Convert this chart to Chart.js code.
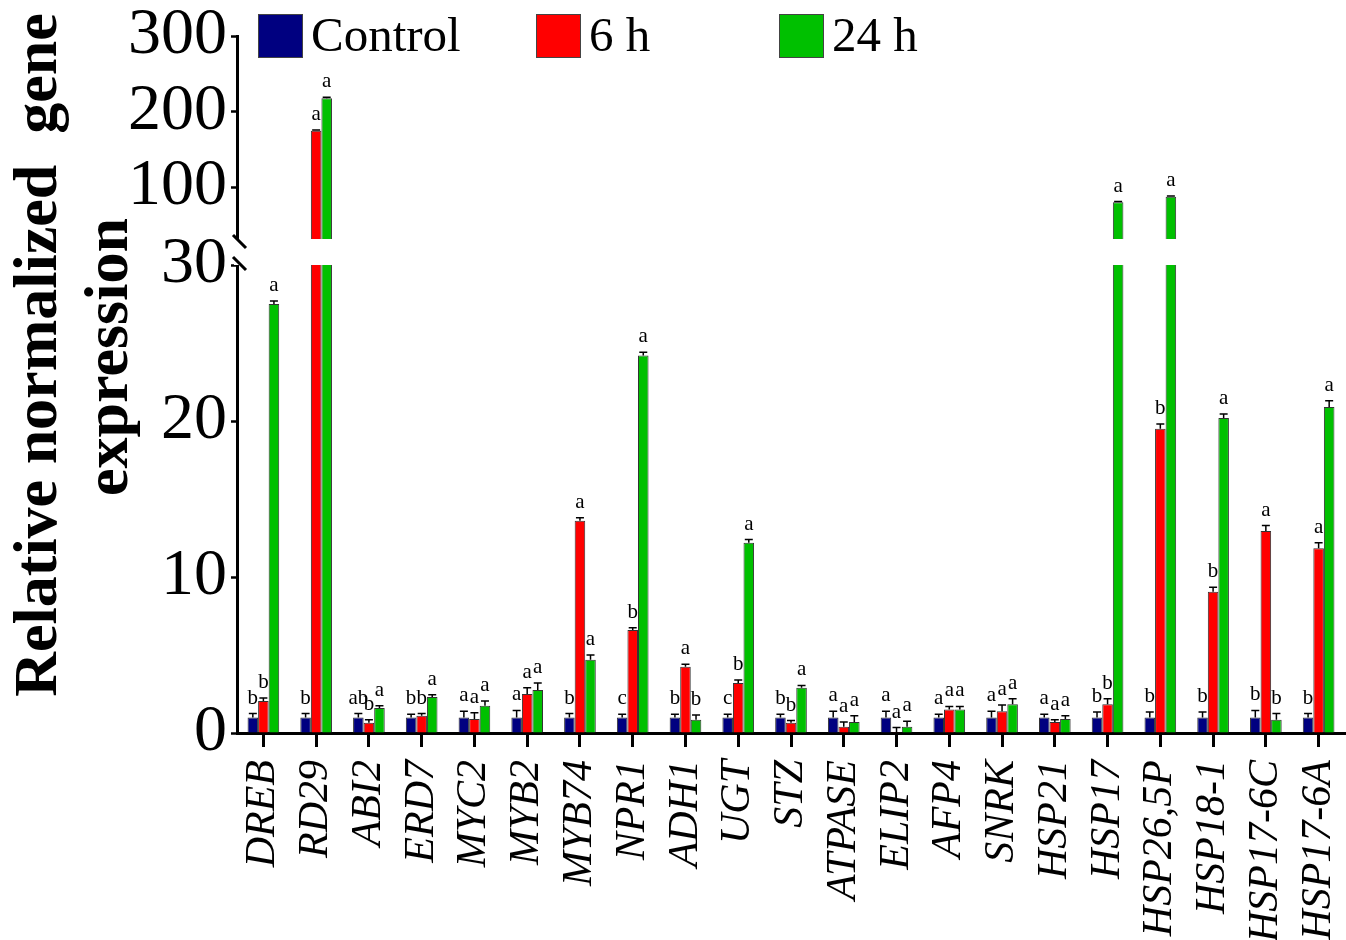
<!DOCTYPE html>
<html>
<head>
<meta charset="utf-8">
<script src="https://cdn.jsdelivr.net/npm/chart.js@4.4.0/dist/chart.umd.min.js"></script>
<style>
  html, body { margin: 0; padding: 0; background: #fff; }
  #wrap { position: relative; width: 1346px; height: 940px; }
</style>
</head>
<body>
<div id="wrap"><canvas id="chart"></canvas></div>
<script>
const genes = ['DREB', 'RD29', 'ABI2', 'ERD7', 'MYC2', 'MYB2', 'MYB74', 'NPR1', 'ADH1', 'UGT', 'STZ',
  'ATPASE', 'ELIP2', 'AFP4', 'SNRK', 'HSP21', 'HSP17', 'HSP26,5P', 'HSP18-1', 'HSP17-6C', 'HSP17-6A'];

const control    = [1, 1, 1, 1, 1, 1, 1, 1, 1, 1, 1, 1, 1, 1, 1, 1, 1, 1, 1, 1, 1];
const controlErr = [0.25, 0.25, 0.25, 0.2, 0.4, 0.45, 0.25, 0.2, 0.2, 0.2, 0.2, 0.4, 0.4, 0.2, 0.4, 0.2, 0.35, 0.35, 0.35, 0.45, 0.25];
const controlSig = ['b', 'b', 'ab', 'b', 'a', 'a', 'b', 'c', 'b', 'c', 'b', 'a', 'a', 'a', 'a', 'a', 'b', 'b', 'b', 'b', 'b'];

const h6    = [2.05, 174.7, 0.65, 1.1, 0.9, 2.5, 13.6, 6.6, 4.25, 3.2, 0.65, 0.4, 0.05, 1.5, 1.4, 0.7, 1.85, 19.5, 9.05, 12.95, 11.85];
const h6Err = [0.2, 1, 0.2, 0.15, 0.4, 0.4, 0.2, 0.15, 0.15, 0.2, 0.15, 0.3, 0.3, 0.2, 0.4, 0.15, 0.35, 0.3, 0.3, 0.35, 0.35];
const h6Sig = ['b', 'a', 'b', 'b', 'a', 'a', 'a', 'b', 'a', 'b', 'b', 'a', 'a', 'a', 'a', 'a', 'b', 'b', 'b', 'a', 'a'];

const h24    = [27.5, 217.5, 1.6, 2.3, 1.75, 2.75, 4.7, 24.2, 0.85, 12.2, 2.9, 0.7, 0.4, 1.5, 1.85, 0.9, 79.9, 87.3, 20.2, 0.85, 20.9];
const h24Err = [0.2, 1.5, 0.15, 0.15, 0.3, 0.45, 0.3, 0.2, 0.3, 0.2, 0.15, 0.4, 0.35, 0.2, 0.35, 0.2, 1, 1, 0.25, 0.4, 0.4];
const h24Sig = ['a', 'a', 'a', 'a', 'a', 'a', 'a', 'a', 'b', 'a', 'a', 'a', 'a', 'a', 'a', 'a', 'a', 'a', 'a', 'b', 'a'];

const yTicks = [0, 10, 20, 30, 100, 200, 300];
const BREAK_AT = 30;
const Y_MAX = 300;

const SERIF = "'Liberation Serif', 'Times New Roman', serif";

// broken axis: upper part 30-300, a gap, lower part 0-30 (shares of plot height)
const HIGH_SHARE = 204 / 697;
const GAP_SHARE = 25 / 697;

class BrokenScale extends Chart.LinearScale {
  segments() {
    const h = this.bottom - this.top;
    const highH = h * HIGH_SHARE;
    const gapH = h * GAP_SHARE;
    return { highH, gapH, lowH: h - highH - gapH };
  }
  getPixelForValue(value) {
    const s = this.segments();
    if (value <= BREAK_AT) return this.bottom - value / BREAK_AT * s.lowH;
    return this.top + s.highH - (value - BREAK_AT) / (this.max - BREAK_AT) * s.highH;
  }
  getValueForPixel(pixel) {
    const s = this.segments();
    if (pixel >= this.bottom - s.lowH) return (this.bottom - pixel) / s.lowH * BREAK_AT;
    return BREAK_AT + (this.top + s.highH - pixel) / s.highH * (this.max - BREAK_AT);
  }
}
BrokenScale.id = 'broken';
BrokenScale.defaults = {};
Chart.register(BrokenScale);

const errorBars = {
  id: 'errorBars',
  afterDatasetsDraw(chart) {
    const { ctx, chartArea, scales: { y } } = chart;
    const s = y.segments();
    const gapTop = y.top + s.highH;
    const gapBottom = gapTop + s.gapH;
    const ax = chartArea.left;

    ctx.save();
    ctx.fillStyle = '#fff';
    ctx.fillRect(ax - 3, gapTop - 1, chartArea.right - ax + 3, gapBottom - gapTop + 1);

    ctx.strokeStyle = '#000';
    ctx.lineWidth = 3;
    ctx.beginPath();
    ctx.moveTo(ax - 4, gapTop - 5);
    ctx.lineTo(ax + 9, gapTop + 8);
    ctx.moveTo(ax - 4, gapBottom - 8);
    ctx.lineTo(ax + 9, gapBottom + 5);
    ctx.stroke();

    ctx.lineWidth = 1.5;
    ctx.fillStyle = '#000';
    ctx.font = '21px ' + SERIF;
    ctx.textAlign = 'center';
    ctx.textBaseline = 'alphabetic';
    chart.data.datasets.forEach((ds, i) => {
      const meta = chart.getDatasetMeta(i);
      meta.data.forEach((bar, j) => {
        const top = y.getPixelForValue(ds.data[j] + ds.errors[j]);
        ctx.beginPath();
        ctx.moveTo(bar.x, bar.y);
        ctx.lineTo(bar.x, top);
        ctx.moveTo(bar.x - 4, top);
        ctx.lineTo(bar.x + 4, top);
        ctx.stroke();
        ctx.fillText(ds.letters[j], bar.x, top - 10);
      });
    });
    ctx.restore();
  }
};

const LEGEND_X = [258, 536, 779];

const decorations = {
  id: 'decorations',
  afterDraw(chart) {
    const { ctx } = chart;
    ctx.save();
    // legend laid over the top of the plot
    ctx.font = '49px ' + SERIF;
    ctx.textBaseline = 'middle';
    ctx.textAlign = 'left';
    chart.data.datasets.forEach((ds, i) => {
      const x = LEGEND_X[i];
      ctx.fillStyle = ds.backgroundColor;
      ctx.fillRect(x, 14, 45, 44);
      ctx.strokeStyle = '#444';
      ctx.lineWidth = 1;
      ctx.strokeRect(x + 0.5, 14.5, 44, 43);
      ctx.fillStyle = '#000';
      ctx.fillText(ds.label, x + 53, 38);
    });

    // y axis title, two rotated lines
    ctx.font = 'bold 62px ' + SERIF;
    ctx.textAlign = 'center';
    ctx.textBaseline = 'alphabetic';
    [['Relative normalized  gene', 56, 355], ['expression', 127, 357]].forEach(([t, x, yc]) => {
      ctx.save();
      ctx.translate(x, yc);
      ctx.rotate(-Math.PI / 2);
      ctx.fillText(t, 0, 0);
      ctx.restore();
    });
    ctx.restore();
  }
};

Chart.defaults.font.family = SERIF;
Chart.defaults.color = '#000';

new Chart(document.getElementById('chart'), {
  type: 'bar',
  data: {
    labels: genes,
    datasets: [
      { label: 'Control', data: control, errors: controlErr, letters: controlSig, backgroundColor: '#000080' },
      { label: '6 h', data: h6, errors: h6Err, letters: h6Sig, backgroundColor: '#ff0000' },
      { label: '24 h', data: h24, errors: h24Err, letters: h24Sig, backgroundColor: '#00c000' }
    ]
  },
  options: {
    responsive: true,
    maintainAspectRatio: false,
    animation: false,
    datasets: {
      bar: {
        categoryPercentage: 0.6,
        barPercentage: 1.0,
        borderWidth: 1,
        borderColor: '#333'
      }
    },
    layout: { padding: { top: 36, right: 1, bottom: 0, left: 0 } },
    plugins: {
      legend: { display: false },
      tooltip: { enabled: false }
    },
    scales: {
      x: {
        grid: {
          display: true,
          drawOnChartArea: false,
          offset: false,
          tickLength: 14,
          tickWidth: 3,
          tickColor: '#000'
        },
        border: { color: '#000', width: 3 },
        ticks: {
          autoSkip: false,
          minRotation: 90,
          maxRotation: 90,
          padding: 13,
          color: '#000',
          font: { size: 42, style: 'italic' }
        },
        afterFit(scale) {
          scale.height = 207;
          scale.paddingLeft = 0;
          scale.paddingRight = 0;
        }
      },
      y: {
        type: 'broken',
        min: 0,
        max: Y_MAX,
        grid: {
          display: true,
          drawOnChartArea: false,
          tickLength: 6,
          tickWidth: 2.5,
          tickColor: '#000'
        },
        border: { color: '#000', width: 3 },
        ticks: {
          autoSkip: false,
          padding: 4,
          color: '#000',
          font: { size: 66 }
        },
        afterBuildTicks(scale) {
          scale.ticks = yTicks.map(v => ({ value: v }));
        },
        afterFit(scale) {
          scale.width = 237;
          scale.paddingTop = 0;
          scale.paddingBottom = 0;
        }
      }
    }
  },
  plugins: [errorBars, decorations]
});
</script>
</body>
</html>
